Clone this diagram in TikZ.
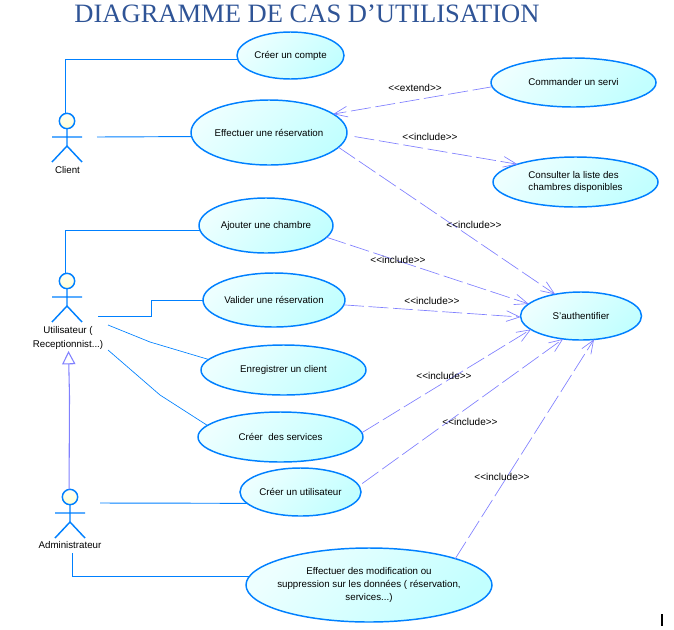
\documentclass[tikz,border=0pt]{standalone}
\usepackage{fontspec}
\setmainfont{Liberation Sans}
\newfontfamily\titlefont{Liberation Serif}
\usetikzlibrary{shapes.geometric,arrows.meta}
\definecolor{lineblue}{HTML}{0080FF}
\definecolor{dashblue}{HTML}{8080FF}
\definecolor{titleblue}{HTML}{2F5496}
\tikzset{
  uc/.style 2 args={ellipse, draw=lineblue, line width=1.1pt, inner sep=0pt, outer sep=0pt,
    top color=cyan!7, bottom color=cyan!24, shading angle=45, align=center,
    minimum width=#1*0.75pt, minimum height=#2*0.75pt, font=\fontsize{7.3}{9.6}\selectfont},
  head/.style={circle, draw=lineblue, line width=1.1pt, inner sep=0pt, outer sep=0pt,
    minimum size=11.5pt, top color=yellow!3, bottom color=yellow!18},
  limb/.style={draw=lineblue, line width=1.1pt},
  assoc/.style={draw=lineblue, line width=0.7pt},
  thinassoc/.style={draw=lineblue, line width=0.5pt},
  dep/.style={draw=dashblue, line width=0.5pt, dash pattern=on 15pt off 3.5pt, -{Straight Barb[length=10pt,width=8pt]}},
  gen/.style={draw=dashblue, line width=0.8pt, -{Triangle[open,length=10pt,width=10pt,fill=white]}},
  stereo/.style={font=\fontsize{7.5}{9}\selectfont, inner sep=0pt},
  who/.style={font=\fontsize{7.3}{10}\selectfont, inner sep=0pt, align=center}
}
\begin{document}
\begin{tikzpicture}[x=0.75pt,y=-0.75pt]
\useasboundingbox (0,0) rectangle (674,629);
\node (titre) [inner sep=0pt, text=titleblue, font=\titlefont\fontsize{19.9}{22}\selectfont] at (307,14)
  {DIAGRAMME DE CAS D’UTILISATION};
% cas d'utilisation
\node[uc={107}{47}] (compte) at (290.5,55.5) {Créer un compte};
\node[uc={156}{65}] (reservation) at (269,132.5) {Effectuer une réservation};
\node[uc={165}{49}] (commander) at (573.5,82.5) {Commander un servi};
\node[uc={165}{50}] (consulter) at (575.5,182) {\begin{tabular}{@{}l@{}}Consulter la liste des\\chambres disponibles\end{tabular}};
\node[uc={134}{55}] (chambre) at (266,225.5) {Ajouter une chambre};
\node[uc={142}{54}] (valider) at (274,300) {Valider une réservation};
\node[uc={165}{50}] (client) at (283.5,370) {Enregistrer un client};
\node[uc={165}{50}] (services) at (280.5,437) {Créer\ \ des services};
\node[uc={121}{48}] (utilisateur) at (300.5,492) {Créer un utilisateur};
\node[uc={246}{74}, inner xsep=-3.6pt] (modif) at (369,585) {Effectuer des modification ou\\suppression sur les données ( réservation,\\services...)};
\node[uc={121}{48}] (auth) at (581,316) {S'authentifier};
% acteurs
\foreach \nom/\x/\y in {acclient/67/121, acuser/67/281, acadmin/70/497} {
  \node[head] (\nom) at (\x,\y) {};
  \draw[limb] (\nom.south) -- (\x,\y+25) (\x-15,\y+16) -- (\x+15,\y+16)
    (\x-15,\y+41) -- (\x,\y+25) -- (\x+15,\y+41);
}
\node[who] (lclient) at (67.5,170) {Client};
\node[who] (luser) at (68,338) {Utilisateur (\\Receptionnist...)};
\node[who] (ladmin) at (70,545) {Administrateur};
% extremites libres
\coordinate (clientr) at (97,137);
\coordinate (userr) at (98,316);
\coordinate (userd) at (108,325);
\coordinate (users) at (108,350);
\coordinate (userb) at (68.5,351);
\coordinate (adminr) at (100,503);
\coordinate (adminb) at (72,553);
% associations
\draw[assoc] (acclient.100) |- (compte.184);
\draw[assoc] (clientr) -- (reservation.183);
\draw[assoc] (acuser.100) |- (chambre.184);
\draw[assoc] (userr) -| (151,300) -- (valider.180);
\draw[thinassoc] (userd) -- (150,342) -- (client.172);
\draw[thinassoc] (users) -- (160,395) -- (services.171);
\draw[assoc] (adminr) -- (utilisateur.192);
\draw[assoc] (adminb) |- (modif.176);
\draw[gen] (acadmin.97) -- (69.5,397) -- (userb);
% dependances
\draw[dep] (commander.183) -- (reservation.16.5);
\draw[dep, shorten <=6pt] (reservation.358) -- (consulter.163);
\draw[dep] (reservation.348) -- (auth.140);
\draw[dep] (chambre.349) -- (auth.167);
\draw[dep] (valider.356) -- (auth.181);
\draw[dep] (services.3) -- (auth.195);
\draw[dep, shorten <=3pt] (utilisateur.6) -- (auth.232);
\draw[dep] (modif.17) -- (auth.299.5);
\foreach \i/\x/\y/\t in {a/415/88/extend, b/430/137/include, c/474/225/include, d/398/260/include,
    e/432/301/include, f/444/376/include, g/470/422/include, h/502/477/include} {
  \node[stereo] (lbl\i) at (\x,\y) {<{}<\t>{}>};
}
\draw[draw=black, line width=0.8pt] (662,614) -- (662,626);
\end{tikzpicture}
\end{document}
